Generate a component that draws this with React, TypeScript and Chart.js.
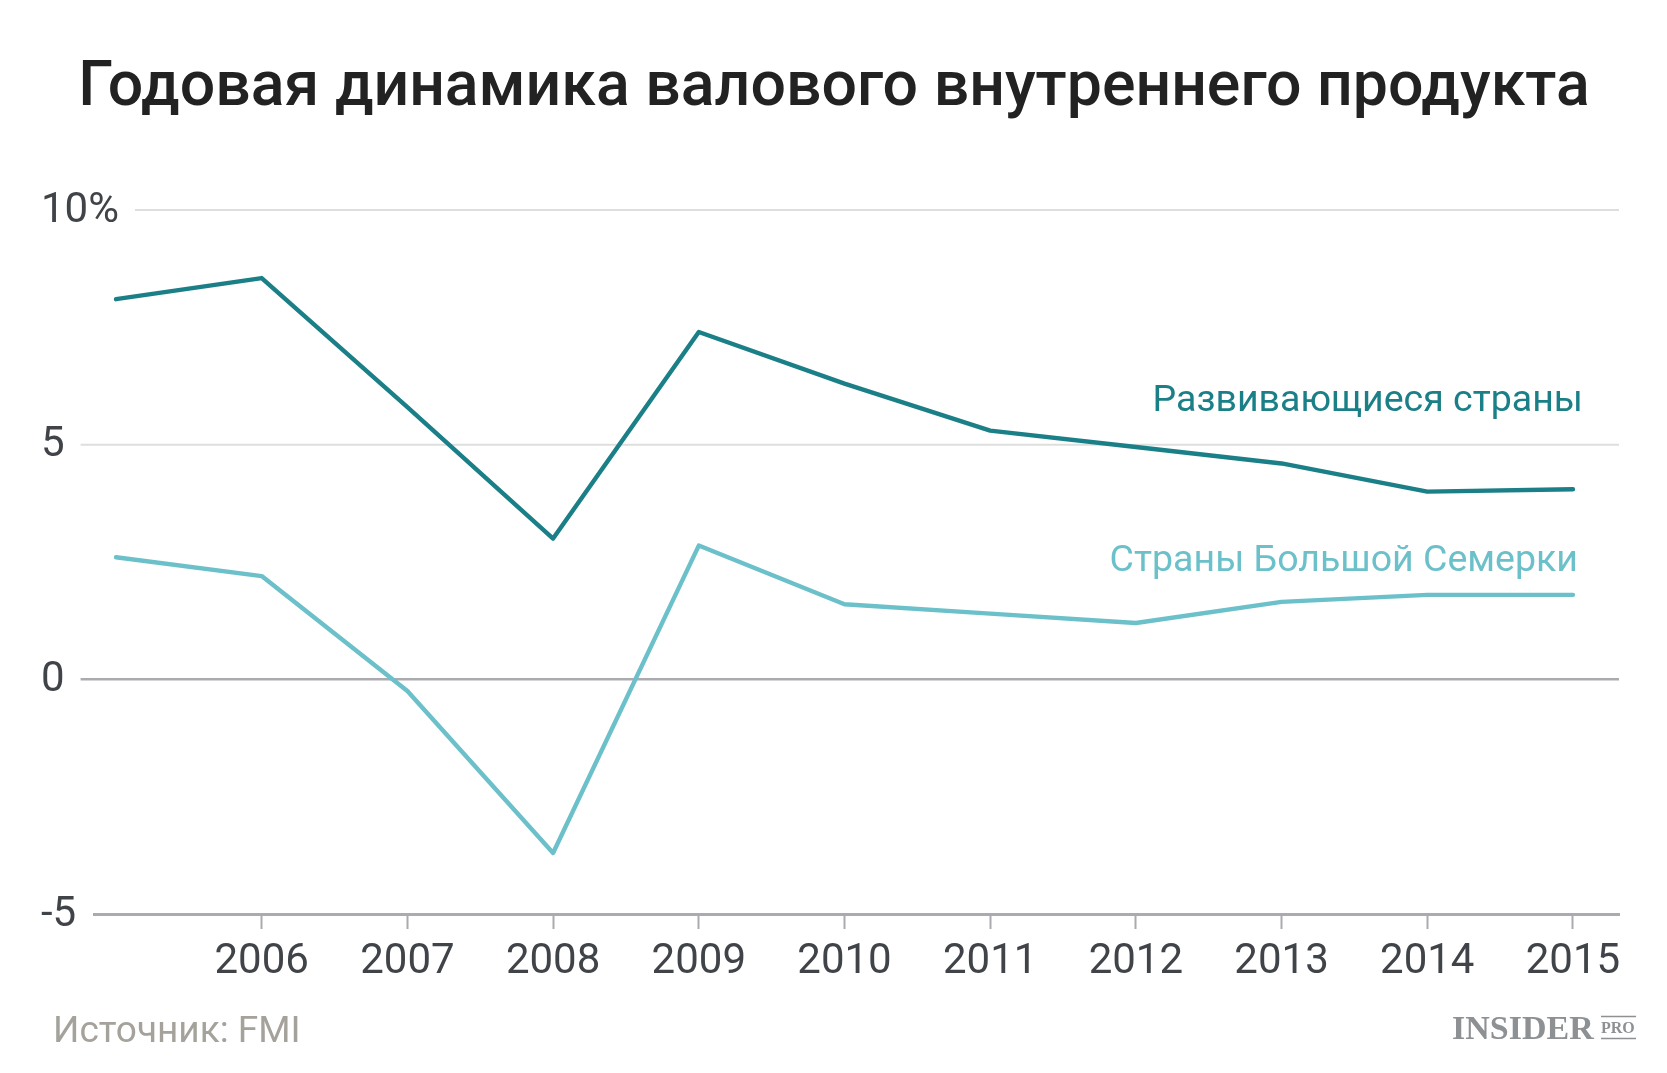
import React, { useEffect, useRef } from 'react';
import { Chart, registerables } from 'chart.js';

Chart.register(...registerables);

// ---- data ----
const years = ['2005', '2006', '2007', '2008', '2009', '2010', '2011', '2012', '2013', '2014', '2015'];
const tickLabels = ['', '2006', '2007', '2008', '2009', '2010', '2011', '2012', '2013', '2014', '2015'];
const devValues = [8.1, 8.55, 5.8, 3.0, 7.4, 6.3, 5.3, 4.95, 4.6, 4.0, 4.05];
const g7Values = [2.6, 2.2, -0.25, -3.7, 2.85, 1.6, 1.4, 1.2, 1.65, 1.8, 1.8];
const yTickValues = [-5, 0, 5, 10];
const seriesNames = ['Развивающиеся страны', 'Страны Большой Семерки'];
const seriesLabelAt = [5.72, 2.31];
const TITLE = 'Годовая динамика валового внутреннего продукта';
const SOURCE = 'Источник: FMI';

const DEV_COLOR = '#1b7f87';
const G7_COLOR = '#6bc0ca';
const TEXT_COLOR = '#404448';
const AXIS_COLOR = '#abaab0';
const GRID_COLOR = '#dedede';
const FONT = 'Roboto, "Noto Sans", sans-serif';
const TICK_SIZE = 42;

const fmtY = (v: number) => (v === 10 ? '10%' : String(v));

const decorPlugin = {
  id: 'decor',
  beforeDatasetsDraw(chart: any) {
    const { ctx, chartArea, scales } = chart;
    const y = scales.y;
    ctx.save();
    ctx.font = `${TICK_SIZE}px ${FONT}`;
    ctx.textAlign = 'left';
    ctx.textBaseline = 'middle';
    const labelX = y.left;
    y.ticks.forEach((t: any) => {
      const py = y.getPixelForValue(t.value);
      const label = fmtY(t.value);
      ctx.fillStyle = TEXT_COLOR;
      ctx.fillText(label, labelX, py + 1);
      if (t.value === yTickValues[0]) return;
      const w = ctx.measureText(label).width;
      const x0 = labelX + w + 16;
      ctx.strokeStyle = t.value === 0 ? AXIS_COLOR : GRID_COLOR;
      ctx.lineWidth = t.value === 0 ? 2.5 : 2;
      ctx.beginPath();
      ctx.moveTo(x0, py);
      ctx.lineTo(chartArea.right, py);
      ctx.stroke();
    });
    ctx.restore();
  },
  afterDatasetsDraw(chart: any) {
    const { ctx, scales } = chart;
    const x = scales.x;
    const y = scales.y;
    ctx.save();
    ctx.font = `37.5px ${FONT}`;
    ctx.textAlign = 'right';
    ctx.textBaseline = 'alphabetic';
    const xr = x.getPixelForValue(years.length - 1) + 10;
    ctx.fillStyle = DEV_COLOR;
    ctx.fillText(seriesNames[0], xr, y.getPixelForValue(seriesLabelAt[0]));
    ctx.fillStyle = G7_COLOR;
    ctx.fillText(seriesNames[1], xr - 5, y.getPixelForValue(seriesLabelAt[1]));
    ctx.restore();
  },
  afterDraw(chart: any) {
    const { ctx } = chart;
    ctx.save();
    ctx.textBaseline = 'alphabetic';
    // title
    ctx.font = `500 62.6px ${FONT}`;
    ctx.fillStyle = '#222222';
    ctx.textAlign = 'center';
    ctx.fillText(TITLE, 834, 105);
    // source
    ctx.font = `37px ${FONT}`;
    ctx.fillStyle = '#a5a29c';
    ctx.textAlign = 'left';
    ctx.fillText(SOURCE, 53, 1042);
    // logo
    ctx.fillStyle = '#8e9193';
    ctx.font = 'bold 34px "Liberation Serif", "DejaVu Serif", serif';
    ctx.fillText('INSIDER', 1452, 1039);
    const proX = 1601;
    ctx.font = 'bold 16px "Liberation Serif", "DejaVu Serif", serif';
    const pw = ctx.measureText('PRO').width;
    ctx.fillText('PRO', proX, 1033);
    ctx.strokeStyle = '#8e9193';
    ctx.lineWidth = 1.5;
    ctx.beginPath();
    ctx.moveTo(proX, 1016.5);
    ctx.lineTo(proX + Math.max(pw, 35), 1016.5);
    ctx.moveTo(proX, 1038.5);
    ctx.lineTo(proX + Math.max(pw, 35), 1038.5);
    ctx.stroke();
    ctx.restore();
  },
};

export default function App() {
  const canvasRef = useRef<HTMLCanvasElement | null>(null);

  useEffect(() => {
    if (!canvasRef.current) return;
    const chart = new Chart(canvasRef.current, {
      type: 'line',
      data: {
        datasets: [
          {
            label: seriesNames[0],
            data: devValues.map((v, i) => ({ x: i, y: v })),
            borderColor: DEV_COLOR,
            borderWidth: 4.4,
            pointRadius: 0,
            tension: 0,
            borderJoinStyle: 'round',
            borderCapStyle: 'round',
          },
          {
            label: seriesNames[1],
            data: g7Values.map((v, i) => ({ x: i, y: v })),
            borderColor: G7_COLOR,
            borderWidth: 4.4,
            pointRadius: 0,
            tension: 0,
            borderJoinStyle: 'round',
            borderCapStyle: 'round',
          },
        ],
      },
      options: {
        animation: false,
        responsive: true,
        maintainAspectRatio: false,
        layout: { padding: { left: 41, right: 48, top: 210, bottom: 79 } },
        plugins: {
          legend: { display: false },
          tooltip: { enabled: false },
          title: { display: false },
        },
        scales: {
          x: {
            type: 'linear',
            min: -0.151,
            max: 10.316,
            afterBuildTicks: (scale: any) => {
              scale.ticks = years.map((_, i) => ({ value: i })).filter((t) => tickLabels[t.value] !== '');
            },
            afterFit: (scale: any) => {
              scale.height = 80;
            },
            ticks: {
              autoSkip: false,
              maxRotation: 0,
              padding: 8,
              color: TEXT_COLOR,
              font: { family: FONT, size: TICK_SIZE },
              callback: (v: any) => tickLabels[v] ?? '',
            },
            grid: {
              drawOnChartArea: false,
              drawTicks: true,
              tickLength: 15,
              tickWidth: 2,
              tickColor: AXIS_COLOR,
            },
            border: { display: true, color: AXIS_COLOR, width: 3 },
          },
          y: {
            min: yTickValues[0],
            max: yTickValues[yTickValues.length - 1],
            afterBuildTicks: (scale: any) => {
              scale.ticks = yTickValues.map((v) => ({ value: v }));
            },
            afterFit: (scale: any) => {
              scale.width = 53;
            },
            ticks: { display: false },
            grid: { display: false, drawTicks: false },
            border: { display: false },
          },
        },
      },
      plugins: [decorPlugin],
    } as any);
    return () => chart.destroy();
  }, []);

  return (
    <div style={{ position: 'fixed', left: 0, top: 0, width: 1667, height: 1073, background: '#ffffff' }}>
      <canvas ref={canvasRef} />
    </div>
  );
}
